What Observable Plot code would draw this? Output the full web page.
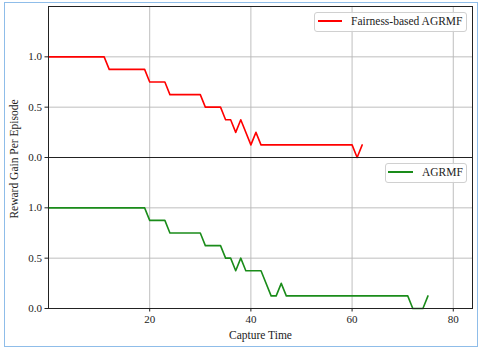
<!DOCTYPE html>
<html><head><meta charset="utf-8">
<script src="https://cdn.jsdelivr.net/npm/d3@7"></script>
<script src="https://cdn.jsdelivr.net/npm/@observablehq/plot@0.6"></script>
<style>
body{margin:0;background:#fff;}
#wrap{position:relative;width:480px;height:349px;overflow:hidden;font-family:"Liberation Serif","Times New Roman",serif;color:#222;}
#border{position:absolute;left:4px;top:2px;width:474px;height:345px;border:1.5px solid #8fbde9;box-sizing:border-box;}
.plot{position:absolute;left:0;}
.plot svg, .plot svg text{font-family:"Liberation Serif","Times New Roman",serif !important;}
.leg{position:absolute;border:1px solid #d0d0d0;border-radius:3px;background:rgba(255,255,255,0.85);box-sizing:border-box;}
.legline{position:absolute;height:2px;}
.legtext{position:absolute;font-size:11.5px;line-height:14px;white-space:nowrap;}
#ylab{position:absolute;left:14px;top:159px;transform:translate(-50%,-50%) rotate(-90deg);font-size:11.5px;white-space:nowrap;}
</style></head>
<body>
<div id="wrap">
  <div id="border"></div>
  <div id="topPlot" class="plot" style="top:0"></div>
  <div id="botPlot" class="plot" style="top:157px"></div>
  <div id="ylab"></div>
  <div class="leg" style="left:314px;top:12px;width:153px;height:20px;"></div>
  <div class="legline" id="legLineRed" style="left:318px;top:20px;width:24px;"></div>
  <div class="legtext" id="legTextRed" style="left:351px;top:14px;"></div>
  <div class="leg" style="left:385px;top:163px;width:82px;height:20px;"></div>
  <div class="legline" id="legLineGreen" style="left:388px;top:171px;width:25px;"></div>
  <div class="legtext" id="legTextGreen" style="left:422px;top:165px;"></div>
</div>
<script>
// Data
const redName = "Fairness-based AGRMF";
const redX = [0, 11, 12, 19, 20, 23, 24, 30, 31, 34, 35, 36, 37, 38, 40, 41, 42, 60, 61, 62];
const redY = [1, 1, 0.875, 0.875, 0.75, 0.75, 0.625, 0.625, 0.5, 0.5, 0.375, 0.375, 0.25, 0.375, 0.125, 0.25, 0.125, 0.125, 0, 0.125];
const greenName = "AGRMF";
const greenX = [0, 19, 20, 23, 24, 30, 31, 34, 35, 36, 37, 38, 39, 42, 44, 45, 46, 47, 71, 72, 74, 75];
const greenY = [1, 1, 0.875, 0.875, 0.75, 0.75, 0.625, 0.625, 0.5, 0.5, 0.375, 0.5, 0.375, 0.375, 0.125, 0.125, 0.25, 0.125, 0.125, 0, 0, 0.125];
const xTicks = [20, 40, 60, 80];
const yTicks = [0, 0.5, 1.0];
const yGrid = [0.5, 1.0];
const xLabel = "Capture Time";
const yLabel = "Reward Gain Per Episode";
const xDomain = [0, 83.8];
const yDomain = [0, 1.5];
const redColor = "#ff0000";
const greenColor = "#1a8c1a";

const red = redX.map((x, i) => ({x, y: redY[i]}));
const green = greenX.map((x, i) => ({x, y: greenY[i]}));

const serif = '"Liberation Serif","Times New Roman",serif';
const common = {
  width: 480, marginLeft: 48, marginRight: 8,
  x: {domain: xDomain, axis: null},
  y: {domain: yDomain, axis: null},
  style: {fontFamily: serif, fontSize: "11px", color: "#222", background: "transparent", overflow: "visible"}
};
const gridCol = "#b8b8b8";
function marks(data, color) {
  return [
    Plot.gridX(xTicks, {stroke: gridCol, strokeOpacity: 1, strokeWidth: 0.9}),
    Plot.gridY(yGrid, {stroke: gridCol, strokeOpacity: 1, strokeWidth: 0.9}),
    Plot.axisY(yTicks, {tickFormat: d => d.toFixed(1), tickSize: 3.5, tickPadding: 3, label: null, stroke: "#222", fontFamily: serif, fontSize: 11}),
    Plot.line(data, {x: "x", y: "y", stroke: color, strokeWidth: 1.6}),
    Plot.frame({stroke: "#222", strokeWidth: 1})
  ];
}
const chartTop = Plot.plot({...common, height: 157, marginTop: 6, marginBottom: 0, marks: marks(red, redColor)});
const chartBot = Plot.plot({...common, height: 192, marginTop: 0, marginBottom: 41,
  marks: [
    ...marks(green, greenColor),
    Plot.axisX(xTicks, {tickSize: 3.5, tickPadding: 3, label: null, stroke: "#222", fontFamily: serif, fontSize: 11}),
    Plot.axisX(xTicks, {tickSize: 0, label: xLabel, labelAnchor: "center", labelArrow: "none", labelOffset: 30, tickFormat: () => "", fontFamily: serif, fontSize: 11.5})
  ]});
document.getElementById("topPlot").appendChild(chartTop);
document.getElementById("botPlot").appendChild(chartBot);
document.getElementById("ylab").textContent = yLabel;
document.getElementById("legLineRed").style.backgroundColor = redColor;
document.getElementById("legLineGreen").style.backgroundColor = greenColor;
document.getElementById("legTextRed").textContent = redName;
document.getElementById("legTextGreen").textContent = greenName;
</script>
</body></html>
